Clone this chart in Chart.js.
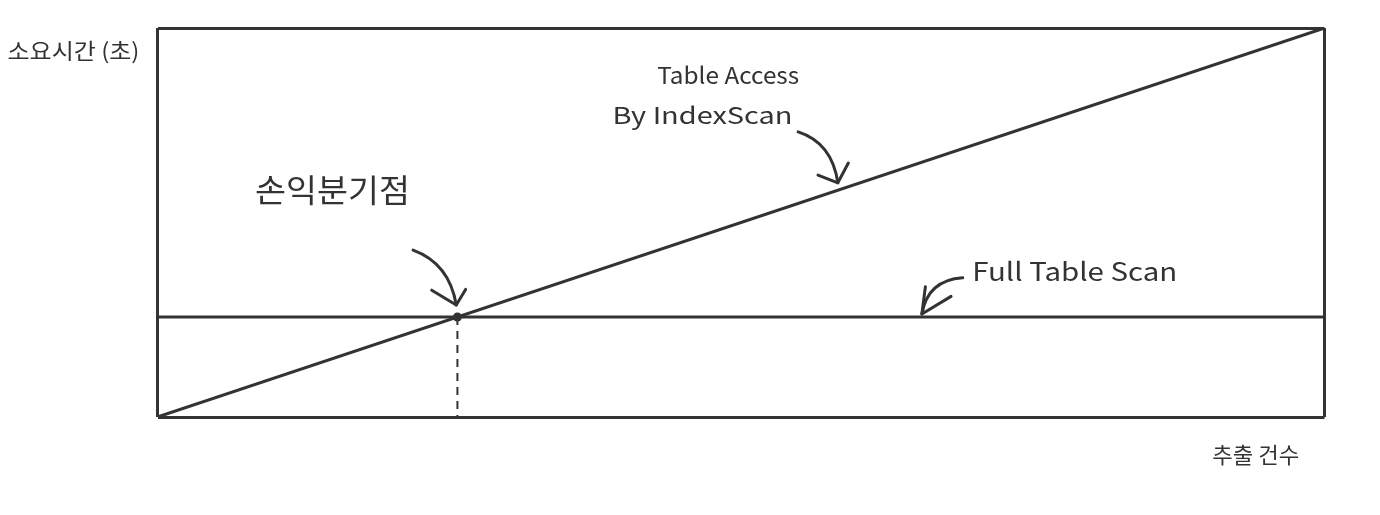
<!DOCTYPE html>
<html>
<head>
<meta charset="utf-8">
<script src="https://cdn.jsdelivr.net/npm/chart.js@4.4.1/dist/chart.umd.min.js"></script>
<style>
  html, body { margin: 0; padding: 0; background: #fff; }
  canvas { display: block; }
</style>
</head>
<body>
<canvas id="myChart" width="1380" height="515"></canvas>
<script>
// data (x: 추출 건수, y: 소요시간, both on a 0-100 scale)
const indexScanX = [0, 100];
const indexScanY = [0, 100];
const fullScanX = [0, 100];
const fullScanY = [25.7, 25.7];
const breakEven = [25.7, 25.7];
const axisTicks = [0, 100];

const INK = '#333333';

// text labels, in data coordinates (center of text), with target width in px
const labels = [
  { text: '소요시간 (초)', x: -7.2, y: 94.3, w: 132, size: 22 },
  { text: '추출 건수', x: 94.1, y: -9.8, w: 87, size: 22 },
  { text: '손익분기점', x: 15.0, y: 58.4, w: 155, size: 32 },
  { text: 'Table Access', x: 48.9, y: 87.9, w: 142, size: 23 },
  { text: 'By IndexScan', x: 46.7, y: 77.6, w: 180, size: 23 },
  { text: 'Full Table Scan', x: 78.6, y: 37.3, w: 205, size: 25 }
];

// hand drawn arrows: start, control, tip, two wings
const arrows = [
  { s: [21.9, 42.9], c: [25.0, 39.5], t: [25.6, 28.8], w1: [23.5, 32.6], w2: [26.4, 32.8] },
  { s: [54.9, 73.3], c: [57.8, 70.5], t: [58.3, 60.2], w1: [56.6, 62.2], w2: [59.2, 65.3] },
  { s: [69.0, 35.8], c: [66.0, 35.2], t: [65.5, 26.5], w1: [65.8, 33.5], w2: [68.0, 31.0] }
];

const notes = {
  id: 'notes',
  afterDraw(chart) {
    const c = chart.ctx;
    const xs = chart.scales.x, ys = chart.scales.y;
    const px = v => xs.getPixelForValue(v);
    const py = v => ys.getPixelForValue(v);
    c.save();
    c.fillStyle = INK;
    c.textAlign = 'center';
    c.textBaseline = 'middle';
    labels.forEach(l => {
      c.font = l.size + 'px "Noto Sans CJK KR", "Noto Sans", sans-serif';
      const m = c.measureText(l.text).width;
      c.save();
      c.translate(px(l.x), py(l.y));
      c.scale(l.w / m, 1);
      c.fillText(l.text, 0, 0);
      c.restore();
    });
    c.strokeStyle = INK;
    c.lineWidth = 3;
    c.lineCap = 'round';
    c.lineJoin = 'round';
    arrows.forEach(a => {
      c.beginPath();
      c.moveTo(px(a.s[0]), py(a.s[1]));
      c.quadraticCurveTo(px(a.c[0]), py(a.c[1]), px(a.t[0]), py(a.t[1]));
      c.stroke();
      c.beginPath();
      c.moveTo(px(a.w1[0]), py(a.w1[1]));
      c.lineTo(px(a.t[0]), py(a.t[1]));
      c.lineTo(px(a.w2[0]), py(a.w2[1]));
      c.stroke();
    });
    c.restore();
  }
};

var ctx = document.getElementById('myChart').getContext('2d');

var myChart = new Chart(ctx, {
  type: 'scatter',
  data: {
    datasets: [
      {
        label: 'Table Access By IndexScan',
        data: indexScanX.map((x, i) => ({ x: x, y: indexScanY[i] })),
        showLine: true,
        borderColor: INK,
        borderWidth: 3,
        pointRadius: 0
      },
      {
        label: 'Full Table Scan',
        data: fullScanX.map((x, i) => ({ x: x, y: fullScanY[i] })),
        showLine: true,
        borderColor: INK,
        borderWidth: 3,
        pointRadius: 0
      },
      {
        label: '손익분기점',
        data: [{ x: breakEven[0], y: breakEven[1] }, { x: breakEven[0], y: 0 }],
        showLine: true,
        borderColor: INK,
        borderWidth: 2,
        borderDash: [8, 6],
        pointRadius: [4.5, 0],
        pointBackgroundColor: INK,
        pointBorderWidth: 0
      }
    ]
  },
  options: {
    responsive: false,
    animation: false,
    layout: { padding: { left: 157.5, top: 28, right: 55.5, bottom: 98 } },
    plugins: {
      legend: { display: false },
      tooltip: { enabled: false }
    },
    scales: {
      x: {
        type: 'linear',
        min: axisTicks[0],
        max: axisTicks[1],
        ticks: { display: false, stepSize: 100 },
        grid: { color: INK, lineWidth: 3, drawTicks: false },
        border: { display: false }
      },
      y: {
        type: 'linear',
        min: axisTicks[0],
        max: axisTicks[1],
        ticks: { display: false, stepSize: 100 },
        grid: { color: INK, lineWidth: 3, drawTicks: false },
        border: { display: false }
      }
    }
  },
  plugins: [notes]
});
</script>
</body>
</html>
